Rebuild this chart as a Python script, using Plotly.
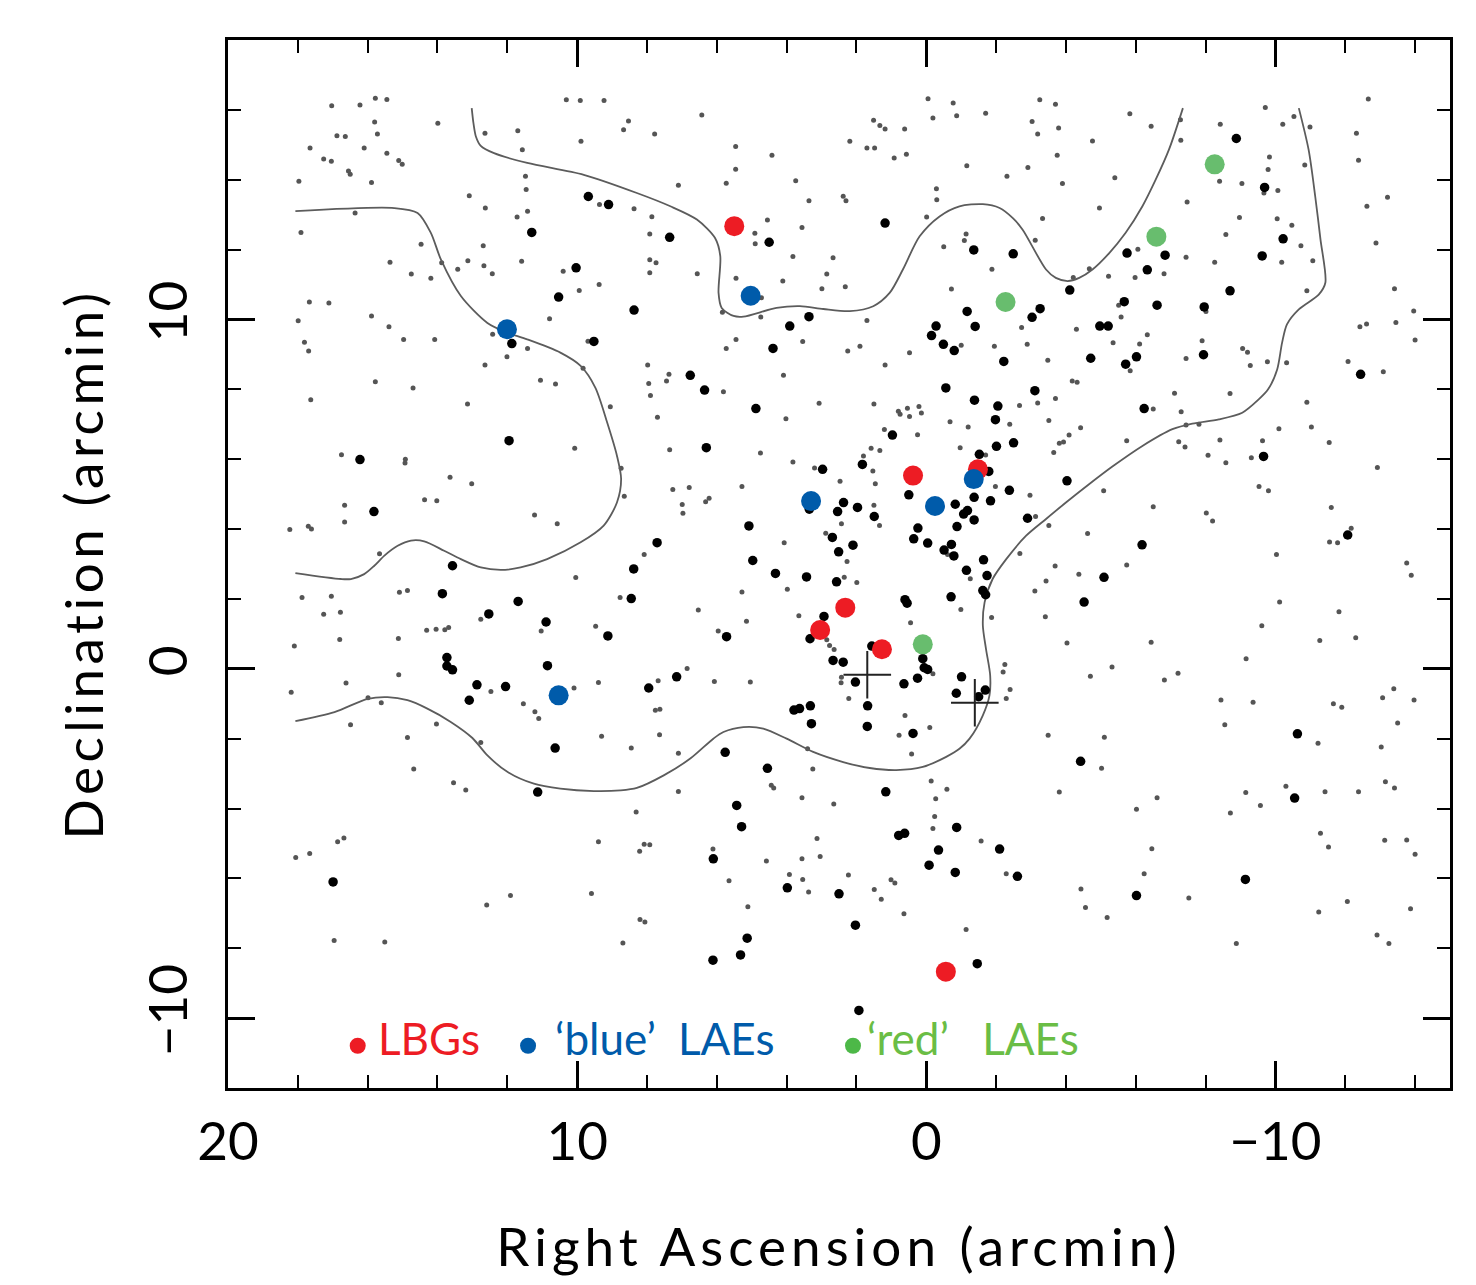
import plotly.graph_objects as go

# ---------------- data (arcmin) ----------------
grey_ra = [17.03,16.22,15.78,15.45,15.80,15.72,13.99,16.88,16.64,17.65,16.10,17.26,17.04,15.45,15.11,15.01,16.55,16.50,17.97,15.89,16.36,17.91,10.31,9.91,9.23,8.53,8.67,9.89,12.64,11.70,11.57,11.48,11.46,13.09,12.63,11.42,11.72,9.36,8.37,14.47,12.69,15.36,13.88,14.75,14.19,13.42,13.13,12.67,12.43,11.59,10.40,9.94,9.37,17.67,17.11,17.99,15.89,15.39,17.81,17.69,14.97,14.08,12.42,12.01,11.42,10.79,9.69,12.64,9.83,15.78,14.70,11.05,10.62,
 6.43,7.78,5.46,4.42,5.46,5.73,7.10,3.74,3.36,2.38,2.30,2.19,1.51,1.33,1.18,0.62,1.70,1.48,0.92,0.57,-0.05,-0.77,-0.19,-0.87,-1.70,-3.25,-3.03,-3.19,-1.16,-2.91,-2.31,-0.29,-0.30,-0.01,-3.33,7.86,7.92,4.55,4.91,4.90,3.56,3.82,2.67,2.85,2.32,2.99,4.11,5.45,6.56,7.92,7.74,7.92,4.72,5.84,4.74,1.70,-1.14,-1.09,-0.50,-1.88,-3.12,-0.72,-2.73,-2.89,-1.95,-1.00,0.48,1.18,1.90,2.25,3.54,5.45,5.73,7.98,7.37,7.44,7.95,4.09,
 -3.70,-3.79,-4.76,-3.75,-5.83,-6.44,-7.28,-7.29,-5.40,-3.90,-4.96,-7.47,-8.42,-9.71,-10.21,-10.53,-10.99,-12.66,-12.32,-12.38,-9.83,-9.79,-8.40,-9.04,-10.07,-9.67,-10.84,-13.21,-12.62,-8.97,-10.05,-10.47,-8.58,-10.73,-12.88,-6.06,-4.67,-4.21,-5.22,-5.98,-6.81,-7.44,-8.26,-10.18,-11.07,-10.90,-13.41,-13.96,-12.42,-12.61,-13.45,-14.00,-5.51,-5.58,-4.30,-6.33,-5.35,-6.11,-8.01,-7.90,-7.44,-9.06,-9.20,-9.28,-9.77,-10.32,-12.08,-13.09,-3.48,-5.84,-4.18,-4.32,
 17.63,13.14,9.05,10.07,16.75,14.92,14.93,13.64,13.02,8.74,8.65,16.66,14.37,14.02,11.22,10.57,18.23,17.70,17.61,16.66,15.66,10.04,17.88,17.04,15.09,14.86,17.26,16.78,8.77,12.76,11.03,9.47,14.31,14.04,13.79,13.68,18.10,16.80,15.12,15.11,16.62,18.19,12.47,11.54,11.21,11.10,10.09,9.39,15.99,15.61,16.49,14.03,14.86,9.30,
 7.90,5.81,7.70,4.02,3.07,1.50,0.80,0.75,0.54,0.48,0.21,0.14,-0.68,-1.20,-2.39,-2.67,-3.19,1.20,0.25,7.35,4.75,3.82,3.20,1.58,1.33,1.80,1.53,1.46,2.47,-0.97,-1.70,-1.98,-2.97,-3.13,7.26,6.79,5.28,6.99,6.97,6.32,6.22,1.50,2.43,1.34,2.88,4.07,8.08,2.27,-0.61,2.35,1.99,3.98,5.28,-1.26,-2.68,-3.11,-3.43,6.53,5.15,3.65,-0.99,0.45,-1.87,-3.41,5.96,2.85,2.77,2.64,6.85,7.68,6.07,5.04,2.43,2.44,-0.19,-2.25,-2.20,-2.40,-2.29,2.22,7.76,7.63,7.64,0.61,-0.10,0.78,
 -3.70,-7.11,-8.70,-6.50,-7.30,-3.51,-4.42,-4.09,-3.81,-3.93,-3.65,-5.74,-7.44,-7.81,-7.23,-7.41,-8.07,-8.41,-8.58,-9.31,-9.63,-10.10,-10.90,-11.03,-11.54,-12.92,-9.53,-9.80,-5.08,-6.50,-8.02,-8.20,-11.60,-12.17,-11.55,-11.78,-3.51,-4.62,-10.03,-13.76,-13.89,-3.69,-4.37,-5.74,-10.12,-11.82,-9.61,-4.03,-6.44,-11.27,-12.30,-9.16,-5.32,-4.70,-6.82,-7.21,-8.44,-9.36,-11.66,-11.90,-13.07,-13.39,-13.97,-13.50,-8.55,-3.49,-5.10,
 14.68,13.54,13.19,12.76,8.45,8.31,9.39,16.86,16.68,18.06,17.66,12.59,11.91,9.59,16.96,15.51,8.69,
 7.10,3.40,0.42,3.25,7.10,4.44,4.37,-0.14,-0.59,3.56,2.65,-0.27,-0.24,-0.19,-1.57,-2.29,8.08,7.92,8.21,6.11,3.13,3.04,3.56,4.58,5.65,3.92,3.54,3.37,2.23,1.49,1.29,1.01,0.90,0.64,-1.14,5.11,8.20,8.06,
 -11.22,-13.03,-5.02,-3.81,-6.02,-6.61,-8.71,-9.15,-9.57,-10.30,-11.42,-12.38,-13.15,-13.41,-11.29,-11.52,-13.13,-13.76,-14.00,-6.46,-6.24,-4.43,-4.56,-5.18,-7.52,-11.24,-12.06,-13.87,-12.91,-13.25,-8.88]
grey_dec = [16.12,16.14,16.33,16.30,15.65,15.31,15.62,15.26,15.24,14.91,14.91,14.59,14.53,14.76,14.55,14.44,14.25,14.16,13.96,13.92,13.05,12.49,16.29,16.27,16.27,15.68,15.43,15.10,15.33,15.40,14.86,14.10,13.72,13.54,13.19,13.10,12.93,13.29,13.17,12.15,12.11,11.64,11.62,11.30,11.18,11.44,11.68,11.54,11.31,11.67,11.38,10.83,11.00,10.50,10.47,9.96,10.10,9.79,9.35,9.10,9.43,9.43,9.58,8.93,9.17,10.02,9.38,8.70,8.60,8.22,8.04,8.26,8.15,
 15.85,15.31,14.95,14.70,14.30,13.90,13.84,13.97,13.40,13.53,13.40,15.10,15.70,15.55,15.45,15.45,14.91,14.91,14.62,14.73,16.32,16.20,15.77,15.83,15.90,16.29,15.67,15.31,14.40,14.35,14.10,13.74,13.43,12.93,12.89,12.94,12.45,12.85,12.47,12.17,12.63,11.80,11.77,11.30,10.94,10.88,11.10,11.18,11.31,11.71,11.62,11.34,10.62,10.21,10.07,9.97,12.45,12.26,12.08,11.44,12.27,10.87,9.77,9.29,9.23,9.26,9.05,8.70,9.23,9.10,9.37,9.43,9.17,8.70,8.43,8.24,8.17,8.40,
 16.16,15.48,15.11,14.70,15.89,15.53,15.72,15.13,14.06,13.89,13.19,13.36,15.59,16.07,15.59,15.81,15.51,16.31,15.33,14.56,14.65,14.29,13.96,13.89,13.69,13.62,14.42,13.50,13.24,12.92,12.88,12.70,12.43,12.11,12.19,12.01,11.45,11.20,11.24,11.20,11.31,11.78,11.64,11.64,11.68,10.82,10.88,10.24,9.79,9.87,9.91,9.41,10.41,10.07,9.72,9.56,9.33,9.30,10.23,9.39,8.88,9.17,9.06,8.68,8.79,8.76,8.80,8.50,8.83,8.53,8.24,8.20,
 7.70,7.58,7.50,6.31,6.13,6.00,5.89,5.48,5.30,5.74,4.94,4.68,4.84,4.81,4.40,4.15,3.99,4.08,4.00,4.20,3.29,2.61,2.04,2.08,2.19,2.24,1.56,1.62,2.04,1.42,1.08,1.22,1.10,1.13,1.12,1.18,0.65,0.84,0.87,-0.17,-0.41,-0.67,-0.65,-1.00,-1.23,-1.42,-0.55,-0.39,-0.83,-0.97,-1.60,-1.58,-1.97,-1.93,
 7.82,7.93,7.20,7.16,7.60,7.58,7.37,7.29,7.46,7.22,7.51,7.32,7.07,6.92,7.00,7.54,7.61,6.85,6.70,6.27,6.18,5.92,5.75,6.31,6.25,6.09,5.66,5.30,5.37,6.33,6.12,5.22,4.97,4.36,5.13,5.19,5.22,4.70,4.45,4.78,4.88,4.68,4.15,4.10,3.88,3.61,3.27,3.07,3.27,2.62,2.47,2.28,2.20,2.58,3.30,2.23,2.51,1.68,1.36,1.52,1.70,1.32,1.47,1.49,1.08,0.83,0.67,0.55,0.01,-0.34,-0.36,-0.38,-0.24,-0.40,-0.14,0.12,-0.09,-0.59,-0.85,-0.85,-1.19,-1.16,-1.89,-1.34,-1.68,-1.90,
 7.74,7.89,7.88,7.44,7.36,7.11,6.90,6.69,6.46,6.49,6.19,6.53,6.98,7.00,6.50,6.35,6.11,6.55,5.90,6.04,6.53,6.87,7.63,6.92,6.48,5.76,5.22,5.10,5.10,4.64,4.46,4.23,4.62,4.02,3.63,3.61,4.10,3.87,3.27,3.03,2.68,2.94,2.71,2.97,1.91,1.63,1.23,0.74,0.76,0.81,0.89,0.29,0.05,-0.21,-0.32,-0.13,-0.89,-0.96,-1.00,-1.10,-0.83,-0.57,-0.89,-1.55,-1.60,-1.90,-1.96,
 -2.87,-3.26,-3.47,-2.11,-2.27,-4.10,-4.95,-4.95,-4.84,-5.40,-5.29,-6.76,-6.49,-6.43,-7.78,-7.82,-7.85,
 -2.42,-2.29,-2.44,-2.87,-3.51,-3.33,-3.41,-3.21,-3.45,-3.69,-3.87,-3.72,-4.23,-4.57,-4.93,-5.87,-5.02,-5.04,-5.22,-5.16,-4.86,-5.37,-5.44,-5.50,-6.07,-5.89,-6.03,-6.39,-5.90,-6.32,-6.60,-6.04,-6.13,-7.01,-7.46,-6.81,-7.18,-7.25,
 -2.13,-2.24,-2.85,-3.53,-4.02,-3.69,-4.13,-3.54,-3.91,-3.36,-3.52,-3.52,-3.23,-3.41,-4.71,-5.10,-4.91,-4.90,-5.31,-5.15,-5.87,-6.30,-6.83,-7.12,-6.56,-6.96,-6.66,-6.87,-7.62,-7.86,-7.86]

black_ra = [9.68,9.10,11.30,10.03,10.53,8.37,11.87,9.52,
 7.35,4.50,1.18,-1.36,-2.49,3.36,3.91,4.39,6.76,-1.17,-0.28,-0.15,-0.49,-0.80,-1.40,-3.03,-3.26,-2.22,
 -8.88,-9.69,-10.22,-9.62,-5.75,-6.84,-6.33,-4.11,-5.67,-6.61,-7.96,-8.70,-4.97,-5.21,-4.71,-6.02,-5.71,-7.94,-12.44,
 11.95,16.22,15.82,13.57,8.38,13.86,11.69,8.45,12.53,10.89,9.12,13.73,13.73,13.57,10.85,12.87,12.05,13.09,
 6.35,4.88,-0.56,-1.38,-2.05,-3.11,-1.98,0.97,-2.01,-2.50,6.30,-1.52,-1.79,1.83,2.97,0.50,-1.37,-1.84,-2.38,-0.83,2.37,1.97,2.54,3.35,1.49,-1.18,-1.07,-1.37,-0.88,-2.90,5.08,0.24,0.36,-0.04,-0.72,-0.51,-0.79,2.69,2.10,2.51,7.71,4.97,4.32,3.43,2.57,-1.64,-1.15,-1.74,-1.62,-1.70,-0.71,0.61,0.55,2.93,5.72,3.33,1.56,7.15,7.95,2.67,2.38,2.03,0.10,0.06,-0.04,0.25,0.64,-1.01,-0.86,-1.69,-1.50,1.68,3.79,3.63,3.32,3.29,1.69,0.38,
 -6.24,-4.03,-9.66,-6.18,-12.07,-5.09,-4.52,-10.63,
 10.63,11.13,16.99,
 5.76,4.55,1.16,5.43,5.29,6.10,-0.87,0.79,0.62,-0.35,-2.10,-0.08,-0.83,-2.61,3.98,2.50,2.03,5.13,5.32,6.11,-1.46,1.93,
 -4.42,-10.55,-9.14,-6.02]
black_dec = [13.52,13.29,12.49,11.48,10.64,10.27,9.31,9.37,
 12.35,12.21,12.76,11.99,11.88,10.08,9.81,9.17,8.40,10.23,9.81,9.54,9.29,9.11,9.80,10.06,10.31,8.80,
 15.18,13.78,12.31,11.82,11.90,11.84,11.42,10.84,10.51,10.41,10.36,10.82,9.81,9.81,8.89,8.93,8.72,8.99,8.43,
 6.53,5.99,4.50,2.95,2.86,2.15,1.93,2.01,1.57,1.34,0.94,0.32,0.08,-0.03,0.09,-0.46,-0.51,-0.90,
 7.98,7.45,8.04,7.69,7.52,7.96,7.13,6.69,6.37,6.47,6.33,6.14,5.65,5.85,5.71,4.98,4.91,4.81,5.11,4.71,4.76,4.62,4.50,4.57,4.36,4.53,4.43,4.26,4.07,4.31,4.09,4.03,3.72,3.60,3.56,3.40,3.23,3.76,3.54,3.35,3.61,3.10,2.73,2.63,2.49,3.12,2.82,2.67,2.24,2.12,2.06,1.98,1.88,1.50,0.92,0.86,0.65,-0.23,-0.55,0.24,0.19,-0.38,0.29,0.03,-0.02,-0.27,-0.43,-0.23,-0.70,-0.61,-0.80,-1.06,-1.18,-1.14,-1.06,-1.57,-1.65,-1.85,
 7.45,5.38,6.08,3.55,3.83,2.62,1.91,-1.86,
 -2.27,-3.53,-6.10,
 -2.39,-2.85,-3.52,-3.91,-4.52,-5.44,-4.54,-4.77,-4.71,-5.19,-5.16,-5.62,-5.83,-5.94,-6.27,-6.44,-7.34,-7.71,-8.19,-8.34,-8.44,-9.78,
 -2.65,-3.70,-6.03,-6.49]

lbg_ra = [5.50, 0.38, -1.48, 2.32, 3.04, 1.27, -0.56]
lbg_dec = [12.67, 5.53, 5.71, 1.75, 1.11, 0.56, -8.67]
blue_lae_ra = [12.01, 5.03, 3.30, -1.36, -0.25, 10.53]
blue_lae_dec = [9.72, 10.68, 4.80, 5.43, 4.66, -0.76]
red_lae_ra = [-2.27, -8.26, -6.59, 0.10]
red_lae_dec = [10.50, 14.44, 12.37, 0.70]
cross_ra = [1.69, -1.39]
cross_dec = [-0.17, -0.97]

contour_a_ra = [13.02,12.97,12.90,12.76,12.38,11.43,9.81,8.29,7.33,6.57,6.05,5.90,5.95,5.86,5.52,5.24,4.29,3.62,2.95,2.19,1.52,1.05,0.67,0.19,-0.38,-0.95,-1.62,-2.10,-2.48,-2.76,-3.43,-3.71,-4.05,-4.38,-4.76,-5.24,-5.71,-6.19,-6.57,-6.95,-7.35]
contour_a_dec = [16.05,15.62,15.24,14.97,14.76,14.48,14.14,13.62,13.24,12.86,12.33,11.81,10.76,10.33,10.10,10.08,10.33,10.38,10.30,10.24,10.38,10.76,11.43,12.38,12.95,13.24,13.30,13.19,12.90,12.57,11.43,11.19,11.10,11.19,11.43,11.90,12.48,13.24,14.00,14.86,16.05]
contour_b_ra = [18.07,15.24,14.57,14.19,13.90,13.33,12.57,12.00,11.43,10.48,9.90,9.48,9.14,8.86,8.74,8.86,9.24,9.90,10.86,11.62,12.19,12.76,13.33,13.81,14.38,14.76,15.14,15.52,15.81,16.10,16.48,16.76,18.07]
contour_b_dec = [13.10,13.19,13.05,12.48,11.71,10.67,9.90,9.62,9.43,9.05,8.67,8.05,7.05,6.10,5.43,4.76,4.10,3.62,3.14,2.90,2.83,2.90,3.14,3.38,3.65,3.67,3.52,3.24,2.95,2.71,2.57,2.57,2.74]
contour_c_ra = [18.07,16.95,16.00,15.43,14.86,14.29,13.62,13.00,12.57,12.00,11.24,10.48,9.52,8.76,8.29,7.52,6.76,6.10,5.81,5.24,4.67,4.00,3.24,2.38,1.62,0.86,0.10,-0.57,-0.95,-1.24,-1.62,-1.81,-1.83,-1.71,-1.62,-1.67,-1.90,-2.29,-2.86,-3.43,-4.00,-4.67,-5.33,-6.19,-7.05,-7.62,-8.38,-9.05,-9.52,-9.79,-10.05,-10.19,-10.33,-10.67,-11.24,-11.43,-11.29,-11.14,-10.95,-10.67]
contour_c_dec = [-1.50,-1.24,-0.86,-0.81,-0.90,-1.14,-1.52,-1.98,-2.48,-2.95,-3.29,-3.43,-3.50,-3.48,-3.41,-3.05,-2.57,-2.00,-1.81,-1.67,-1.71,-2.00,-2.38,-2.67,-2.84,-2.90,-2.81,-2.52,-2.29,-2.00,-1.33,-0.76,-0.19,0.57,1.24,1.90,2.57,3.14,3.81,4.29,4.76,5.29,5.79,6.38,6.86,7.02,7.14,7.33,7.71,8.00,8.57,9.33,9.86,10.29,10.71,11.05,12.29,13.52,14.86,16.05]

x_ticks = [20, 10, 0, -10]
y_ticks = [-10, 0, 10]
legend_labels = ["LBGs", "\u2018blue\u2019\u00a0\u00a0LAEs", "\u2018red\u2019\u00a0\u00a0\u00a0LAEs"]
x_title = "Right Ascension (arcmin)"
y_title = "Declination (arcmin)"

RED = "#ED1C24"
BLUE = "#005BAA"
GREEN = "#68BD6E"
FONT = "Lato"

fig = go.Figure()
fig.add_trace(go.Scatter(x=grey_ra, y=grey_dec, mode="markers",
                         marker=dict(size=5, color="#555555"), hoverinfo="skip"))
for cra, cdec in [(contour_a_ra, contour_a_dec), (contour_b_ra, contour_b_dec), (contour_c_ra, contour_c_dec)]:
    fig.add_trace(go.Scatter(x=cra, y=cdec, mode="lines",
                             line=dict(color="#5c5c5c", width=1.8, shape="spline", smoothing=0.8),
                             hoverinfo="skip"))
fig.add_trace(go.Scatter(x=black_ra, y=black_dec, mode="markers",
                         marker=dict(size=9.5, color="black"), hoverinfo="skip"))
fig.add_trace(go.Scatter(x=lbg_ra, y=lbg_dec, mode="markers", marker=dict(size=20, color=RED)))
fig.add_trace(go.Scatter(x=red_lae_ra, y=red_lae_dec, mode="markers", marker=dict(size=20, color=GREEN)))
fig.add_trace(go.Scatter(x=blue_lae_ra, y=blue_lae_dec, mode="markers", marker=dict(size=20, color=BLUE)))
fig.add_trace(go.Scatter(x=cross_ra, y=cross_dec, mode="markers",
                         marker=dict(symbol="cross-thin", size=34, line=dict(width=2, color="#222222"))))

axis_common = dict(showline=True, linecolor="black", linewidth=2.5, mirror="allticks",
                   ticks="inside", ticklen=27, tickwidth=2.5, tickcolor="black",
                   showgrid=False, zeroline=False, automargin=False,
                   tickfont=dict(family=FONT, size=53, color="black"),
                   minor=dict(ticks="inside", ticklen=13, tickwidth=2.2, tickcolor="black", dtick=2, tick0=0))

fig.update_layout(
    width=1460, height=1269,
    margin=dict(l=220, r=18, t=32, b=189),
    paper_bgcolor="white", plot_bgcolor="white",
    showlegend=False,
    xaxis=dict(range=[20, -15], tickvals=x_ticks, ticklabelstandoff=6,
               title=dict(text="<span style='letter-spacing:5px'>" + x_title + "</span>",
                          font=dict(family=FONT, size=53, color="black"), standoff=60),
               **axis_common),
    yaxis=dict(range=[-12, 18], tickvals=y_ticks, tickangle=-90, ticklabelstandoff=17,
               title=dict(text="<span style='letter-spacing:4.5px'>" + y_title + "</span>",
                          font=dict(family=FONT, size=53, color="black"), standoff=15),
               **axis_common),
)

# legend (layout positions in paper units)
legend_dot_x0 = [0.0996, 0.2390, 0.5049]
legend_txt_x = [0.1215, 0.2660, 0.5215]
legend_cols = [RED, BLUE, "#6ABD45"]
dot_cols = [RED, BLUE, "#4DB848"]
dot_w, dot_h = 16 / 1222, 16 / 1048
for lab, dx, tx, tc, dc in zip(legend_labels, legend_dot_x0, legend_txt_x, legend_cols, dot_cols):
    fig.add_shape(type="circle", xref="paper", yref="paper", x0=dx, x1=dx + dot_w,
                  y0=0.0327, y1=0.0327 + dot_h, fillcolor=dc, line=dict(width=0))
    fig.add_annotation(x=tx, y=0.0474, xref="paper", yref="paper", text=lab, showarrow=False,
                       xanchor="left", yanchor="middle", font=dict(family=FONT, size=44, color=tc))

fig.write_html("out.html")
